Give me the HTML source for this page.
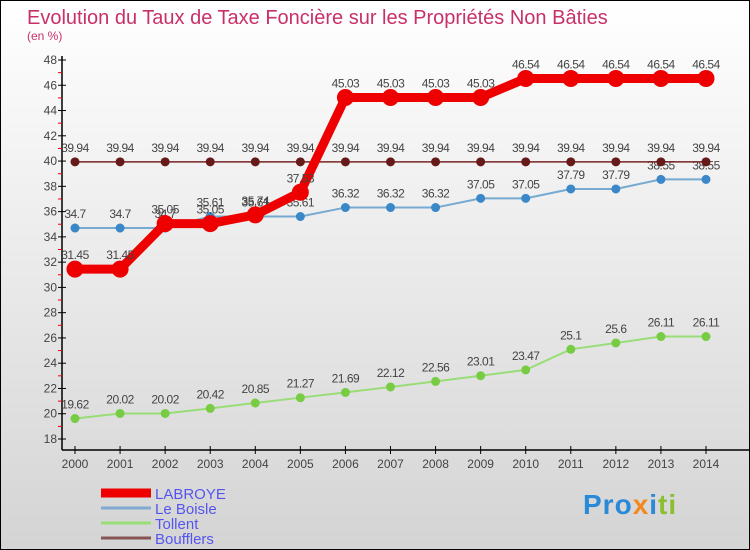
<!DOCTYPE html>
<html><head><meta charset="utf-8"><style>
body{margin:0;}
#c{width:748px;height:548px;border:1px solid #000;background:linear-gradient(#ffffff,#d4d4d4);position:relative;font-family:"Liberation Sans",sans-serif;overflow:hidden}
</style></head><body>
<div id="c">
<svg id="s" width="748" height="548">
<text x="26" y="23" font-size="20" fill="#c8306a">Evolution du Taux de Taxe Foncière sur les Propriétés Non Bâties</text>
<text x="26" y="39" font-size="12" fill="#c8306a">(en %)</text>
</svg>
<div style="position:absolute;left:582px;top:488px;font-size:28px;font-weight:bold;letter-spacing:1px"><span style="color:#2a8ad8">Pro</span><span style="color:#f08a20">x</span><span style="color:#2a8ad8">i</span><span style="color:#8ac030">ti</span></div>
</div>
<script>
const years=[2000,2001,2002,2003,2004,2005,2006,2007,2008,2009,2010,2011,2012,2013,2014];
const yTicks=[18,20,22,24,26,28,30,32,34,36,38,40,42,44,46,48];
const labroye=[31.45,31.45,35.05,35.05,35.74,37.53,45.03,45.03,45.03,45.03,46.54,46.54,46.54,46.54,46.54];
const leBoisle=[34.7,34.7,34.7,35.61,35.61,35.61,36.32,36.32,36.32,37.05,37.05,37.79,37.79,38.55,38.55];
const tollent=[19.62,20.02,20.02,20.42,20.85,21.27,21.69,22.12,22.56,23.01,23.47,25.1,25.6,26.11,26.11];
const boufflers=[39.94,39.94,39.94,39.94,39.94,39.94,39.94,39.94,39.94,39.94,39.94,39.94,39.94,39.94,39.94];
const seriesNames=["LABROYE","Le Boisle","Tollent","Boufflers"];
const svg=document.getElementById('s');const NS="http://www.w3.org/2000/svg";
const X=i=>74+i*(631/(years.length-1));
const Y=v=>438-(v-18)*(379/30);
function mk(t,a,p){const e=document.createElementNS(NS,t);for(const k in a)e.setAttribute(k,a[k]);(p||svg).appendChild(e);return e;}
// axes
let ax=mk('line',{x1:61,y1:55,x2:61,y2:449,stroke:'#000','stroke-width':1.5});


let xa=mk('line',{x1:61,y1:449,x2:748,y2:449,stroke:'#000','stroke-width':1.5});


yTicks.forEach(v=>{
 mk('line',{x1:57,x2:65,y1:Y(v),y2:Y(v),stroke:'#000'});
 if(v<48) mk('line',{x1:57,x2:61,y1:Y(v+1),y2:Y(v+1),stroke:'#e00'});
 const t=mk('text',{x:56,y:Y(v)+4,'font-size':12,'text-anchor':'end',fill:'#444'});t.textContent=v;
 
 
});
years.forEach((y,i)=>{
 mk('line',{x1:X(i),x2:X(i),y1:445,y2:453,stroke:'#000'});
 const t=mk('text',{x:X(i),y:467,'font-size':12,'text-anchor':'middle',fill:'#444'});t.textContent=y;
 
 
});
function series(data,color,lw,r,name,dotColor){
 const g=mk('g',{});
 
 
 mk('polyline',{points:data.map((v,i)=>X(i)+','+Y(v)).join(' '),fill:'none',stroke:color,'stroke-width':lw,'stroke-linejoin':'round'},g);
 data.forEach((v,i)=>{
  const c=mk('circle',{cx:X(i),cy:Y(v),r:r,fill:dotColor,stroke:dotColor},g);
  
  
  const t=mk('text',{x:X(i),y:Y(v)-10,'font-size':12,'text-anchor':'middle',fill:'#444','letter-spacing':'-0.5'},g);t.textContent=v;
  
  
 });
}
series(tollent,'#99dd77',2,4,'tollent-series','#77cc44');
series(leBoisle,'#77aad0',2,4,'le-boisle-series','#3a88c8');
series(boufflers,'#772222',1.5,4,'boufflers-series','#661a1a');
series(labroye,'#ee0000',9,8,'labroye-series','#ee0000');
// legend
const lc=['#ee0000','#80aad0','#99dd77','#885555'],lw=[9,3,3,3];
seriesNames.forEach((n,i)=>{
 const y=492+i*15;
 const l=mk('line',{x1:100,x2:150,y1:y,y2:y,stroke:lc[i],'stroke-width':lw[i]});
 
 
 const t=mk('text',{x:154,y:y+6,'font-size':15,fill:'#5555ee'});t.textContent=n;
 
 
});
</script>
</body></html>
